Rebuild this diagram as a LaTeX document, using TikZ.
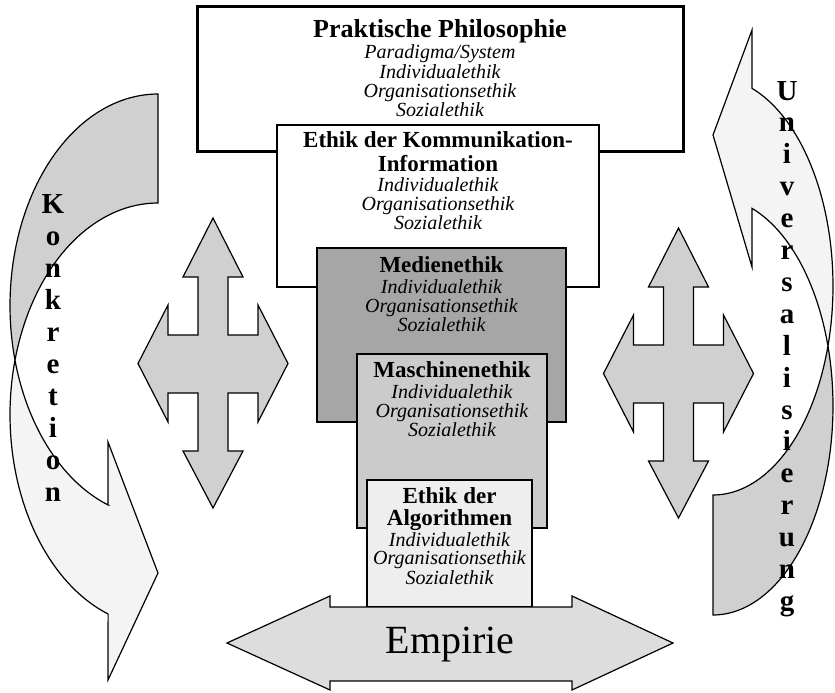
\documentclass[tikz,border=0pt]{standalone}
\usepackage{fontspec}
\setmainfont{Liberation Serif}
\definecolor{medc}{HTML}{A6A6A6}
\definecolor{masc}{HTML}{CBCBCB}
\definecolor{algc}{HTML}{EEEEEE}
\definecolor{crossc}{HTML}{D0D0D0}
\definecolor{empc}{HTML}{DDDDDD}
\definecolor{dband}{HTML}{D0D0D0}
\definecolor{lband}{HTML}{F4F4F4}
\begin{document}
\begin{tikzpicture}[x=1pt,y=-1pt,
  box/.style={draw=black, line width=1.4pt, anchor=north west, inner sep=0pt, outer sep=0pt},
  ttl/.style={anchor=base, inner sep=0pt, font=\fontsize{23}{23}\selectfont\bfseries},
  itl/.style={anchor=base, inner sep=0pt, text height=13pt, text depth=3pt, font=\fontsize{20}{20}\selectfont\itshape},
  outl/.style={draw=black, line width=1.2pt, line join=miter},
  letter/.style={anchor=base, inner sep=0pt, font=\fontsize{29}{29}\selectfont\bfseries}
]
\useasboundingbox (0,0) rectangle (835,693);

% --- left curved arrow (Konkretion)
\draw[outl, fill=dband]
  plot[domain=270:165.08, samples=60, variable=\t] ({158+148*cos(\t)}, {305.7+211.7*sin(\t)})
  -- plot[domain=194.92:270, samples=60, variable=\t] ({158+148*cos(\t)}, {414.7+211.7*sin(\t)})
  -- cycle;
\draw[outl, fill=lband]
  plot[domain=194.92:109.7, samples=60, variable=\t] ({158+148*cos(\t)}, {414.7+211.7*sin(\t)})
  -- (108,680) -- (158,573) -- (108,442) -- (108,505)
  -- plot[domain=109.7:165.08, samples=40, variable=\t] ({158+148*cos(\t)}, {305.7+211.7*sin(\t)})
  -- cycle;

% --- right curved arrow (Universalisierung)
\draw[outl, fill=dband]
  plot[domain=90:-16.68, samples=60, variable=\t] ({713+120*cos(\t)}, {406+209*sin(\t)})
  -- plot[domain=16.68:90, samples=60, variable=\t] ({713+120*cos(\t)}, {286+209*sin(\t)})
  -- cycle;
\draw[outl, fill=lband]
  plot[domain=16.68:-71, samples=60, variable=\t] ({713+120*cos(\t)}, {286+209*sin(\t)})
  -- (752,30) -- (713,135) -- (752,267)
  -- plot[domain=-71:-16.68, samples=40, variable=\t] ({713+120*cos(\t)}, {406+209*sin(\t)})
  -- cycle;

% --- four-way arrows
\foreach \sx/\sy in {0/0, 465.5/10}{
\begin{scope}[shift={(\sx,\sy)}]
\draw[outl, fill=crossc] (213,218) -- (243,277) -- (228,277) -- (228,335) -- (258,335) -- (258,305)
  -- (288,363.5) -- (258,422) -- (258,393) -- (228,393) -- (228,451) -- (243,451) -- (213,508)
  -- (183,451) -- (198,451) -- (198,393) -- (168,393) -- (168,422) -- (138,363.5) -- (168,305)
  -- (168,335) -- (198,335) -- (198,277) -- (183,277) -- cycle;
\end{scope}}

% --- boxes
\node[box, line width=3pt, minimum width=486pt, minimum height=144pt] (pp) at (197,7) {};
\node[box, fill=white, minimum width=322pt, minimum height=162pt] (kom) at (277,125) {};
\node[box, fill=medc, minimum width=249pt, minimum height=174pt] (med) at (317,248) {};
\node[box, fill=masc, minimum width=190pt, minimum height=174pt] (mas) at (357,354) {};
\node[box, fill=algc, minimum width=165pt, minimum height=127pt] (alg) at (367,480) {};

% --- Empirie arrow
\draw[outl, fill=empc] (227,643) -- (330,596) -- (330,607) -- (572,607) -- (572,596) -- (673,643)
  -- (572,690) -- (572,681) -- (330,681) -- (330,690) -- cycle;
\node[anchor=base, inner sep=0pt, font=\fontsize{40}{40}\selectfont] (emp) at (450,653) {Empirie};

% --- texts
\node[ttl, font=\fontsize{26}{26}\selectfont\bfseries] (pp1) at (440,38) {Praktische Philosophie};
\node[itl] (pp2) at (440,59) {Paradigma/System};
\node[itl] (pp3) at (440,78.5) {Individualethik};
\node[itl] (pp4) at (440,97) {Organisationsethik};
\node[itl] (pp5) at (440,116) {Sozialethik};

\node[ttl] (kom1) at (438,147) {Ethik der Kommunikation-};
\node[ttl] (kom2) at (438,171) {Information};
\node[itl] (kom3) at (438,191) {Individualethik};
\node[itl] (kom4) at (438,210) {Organisationsethik};
\node[itl] (kom5) at (438,229) {Sozialethik};

\node[ttl] (med1) at (441.5,272) {Medienethik};
\node[itl] (med2) at (441.5,293) {Individualethik};
\node[itl] (med3) at (441.5,312) {Organisationsethik};
\node[itl] (med4) at (441.5,331) {Sozialethik};

\node[ttl] (mas1) at (452,377) {Maschinenethik};
\node[itl] (mas2) at (452,398) {Individualethik};
\node[itl] (mas3) at (452,417) {Organisationsethik};
\node[itl] (mas4) at (452,436) {Sozialethik};

\node[ttl] (alg1) at (449.5,503) {Ethik der};
\node[ttl] (alg2) at (449.5,525) {Algorithmen};
\node[itl] (alg3) at (449.5,546) {Individualethik};
\node[itl] (alg4) at (449.5,564.5) {Organisationsethik};
\node[itl] (alg5) at (449.5,584) {Sozialethik};

% --- vertical words
\foreach \c [count=\i from 0] in {K,o,n,k,r,e,t,i,o,n}
  \node[letter] (kon\i) at (53,{213+32.1*\i}) {\c};
\foreach \c [count=\i from 0] in {U,n,i,v,e,r,s,a,l,i,s,i,e,r,u,n,g}
  \node[letter] (uni\i) at (787,{100+31.9*\i}) {\c};
\end{tikzpicture}
\end{document}
